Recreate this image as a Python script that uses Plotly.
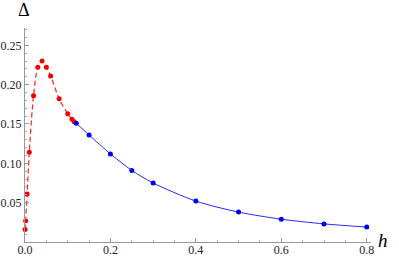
import plotly.graph_objects as go

h_red = [0.0002, 0.0015, 0.005, 0.01, 0.02, 0.03, 0.04, 0.05, 0.06, 0.08, 0.10, 0.11, 0.115]
d_red = [0.016, 0.027, 0.061, 0.114, 0.186, 0.222, 0.230, 0.222, 0.211, 0.182, 0.163, 0.156, 0.153]

h_blue = [0.12, 0.15, 0.20, 0.25, 0.30, 0.40, 0.50, 0.60, 0.70, 0.80]
d_blue = [0.151, 0.136, 0.112, 0.091, 0.075, 0.052, 0.038, 0.029, 0.023, 0.019]

x_ticks = [0.0, 0.2, 0.4, 0.6, 0.8]
x_labels = ["0.0", "0.2", "0.4", "0.6", "0.8"]
y_ticks = [0.05, 0.10, 0.15, 0.20, 0.25]
y_labels = ["0.05", "0.10", "0.15", "0.20", "0.25"]

SERIF = "Liberation Serif"

W, H = 399, 258
L, R, T, B = 25, 28, 28, 16

fig = go.Figure()
fig.add_trace(go.Scatter(
    x=h_red, y=d_red, mode="lines+markers",
    line=dict(color="rgb(255,30,30)", width=1.2, dash="5px,3px", shape="spline", smoothing=0.8),
    marker=dict(color="rgb(240,0,0)", size=5),
    showlegend=False, cliponaxis=False))
fig.add_trace(go.Scatter(
    x=h_blue, y=d_blue, mode="lines+markers",
    line=dict(color="rgb(40,40,255)", width=1, shape="spline", smoothing=0.8),
    marker=dict(color="rgb(0,0,240)", size=5),
    showlegend=False, cliponaxis=False))

axis_font = dict(family=SERIF, size=12, color="#222")
fig.update_layout(
    width=W, height=H,
    margin=dict(l=L, r=R, t=T, b=B, autoexpand=False),
    paper_bgcolor="white", plot_bgcolor="white",
    font=dict(family=SERIF),
    xaxis=dict(range=[0, 0.81], tickvals=x_ticks, ticktext=x_labels, automargin=False,
               showgrid=False, zeroline=False, showline=True, linecolor="#999", linewidth=1,
               ticks="inside", ticklen=4, tickcolor="#999", tickfont=axis_font,
               ticklabelstandoff=-3,
               minor=dict(dtick=0.05, tick0=0, ticks="inside", ticklen=2, tickcolor="#aaa", showgrid=False)),
    yaxis=dict(range=[0, 0.272], tickvals=y_ticks, ticktext=y_labels, automargin=False,
               showgrid=False, zeroline=False, showline=True, linecolor="#999", linewidth=1,
               ticks="inside", ticklen=4, tickcolor="#999", tickfont=axis_font,
               minor=dict(dtick=0.01, tick0=0, ticks="inside", ticklen=2, tickcolor="#aaa", showgrid=False)),
    annotations=[
        dict(text="Δ", x=24, y=10, xref="paper", yref="paper", showarrow=False,
             xanchor="center", yanchor="middle",
             font=dict(family=SERIF, size=18, color="black")),
        dict(text="<i>h</i>", x=383, y=240, xref="paper", yref="paper", showarrow=False,
             xanchor="center", yanchor="middle",
             font=dict(family=SERIF, size=19, color="black")),
    ],
)
pw = W - L - R
ph = H - T - B
for a in fig.layout.annotations:
    a.x = (a.x - L) / pw
    a.y = 1 - (a.y - T) / ph

fig.write_html("out.html", config={"displayModeBar": False},
               post_script="document.body.style.margin='0';")
